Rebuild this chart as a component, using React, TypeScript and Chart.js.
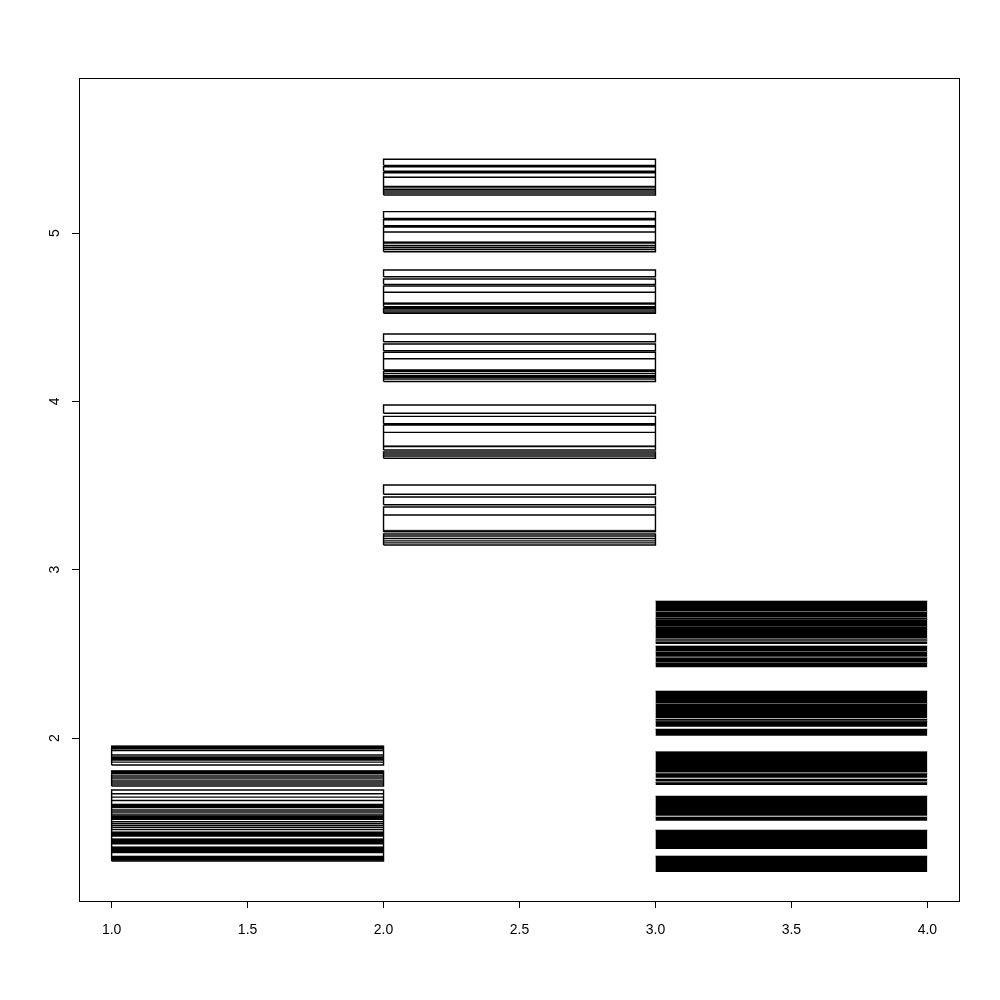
import React, { useEffect, useRef } from "react";
import { Chart, registerables } from "chart.js";

Chart.register(...registerables);

// x extents of the three groups
const groupSpans: number[][] = [
  [1, 2],
  [2, 3],
  [3, 4],
];

// Group 1 (x 1..2)
const group1Boxes: number[][] = [
  [1.84, 1.952],
  [1.715, 1.804],
  [1.269, 1.691],
];
const group1Lines: number[] = [
  1.926, 1.899, 1.887, 1.878, 1.869, 1.857, 1.774, 1.762, 1.75, 1.739, 1.727,
  1.669, 1.649, 1.629, 1.572, 1.56, 1.548, 1.503, 1.492, 1.48, 1.468, 1.456,
];
const group1Bands: number[][] = [
  [1.932, 1.952],
  [1.783, 1.804],
  [1.582, 1.608],
  [1.513, 1.541],
  [1.414, 1.443],
  [1.368, 1.402],
  [1.315, 1.354],
  [1.271, 1.299],
];

// Group 2 (x 2..3)
const group2Boxes: number[][] = [
  [5.402, 5.438], [5.367, 5.394], [5.226, 5.358],
  [5.087, 5.127], [5.043, 5.079], [4.889, 5.036],
  [4.74, 4.78], [4.695, 4.727], [4.562, 4.685], [4.523, 4.553],
  [4.354, 4.4], [4.301, 4.341], [4.186, 4.291], [4.118, 4.177],
  [3.929, 3.978], [3.867, 3.911], [3.711, 3.859], [3.662, 3.699],
  [3.448, 3.503], [3.386, 3.432], [3.226, 3.372], [3.147, 3.212],
];
const group2Lines: number[] = [
  5.331, 5.26, 5.25, 5.238,
  5.006, 4.926, 4.914, 4.902,
  4.648, 4.543, 4.531,
  4.253, 4.165, 4.153, 4.145, 4.133,
  3.816, 3.687, 3.675,
  3.325, 3.2, 3.185, 3.171, 3.159,
];
const group2Bands: number[][] = [
  [5.269, 5.279],
  [4.936, 4.948],
  [4.574, 4.586],
  [4.139, 4.143],
  [3.727, 3.736],
  [3.223, 3.234],
];

// Group 3 (x 3..4)
const group3Boxes: number[][] = [];
const group3Lines: number[] = [];
const group3Bands: number[][] = [
  [2.754, 2.814], [2.716, 2.75], [2.707, 2.713], [2.665, 2.704],
  [2.594, 2.662], [2.584, 2.59], [2.574, 2.58], [2.558, 2.57],
  [2.517, 2.547], [2.483, 2.513], [2.448, 2.477], [2.42, 2.446],
  [2.208, 2.279], [2.119, 2.204], [2.103, 2.113], [2.067, 2.099], [2.014, 2.053],
  [1.795, 1.919], [1.764, 1.789], [1.742, 1.756], [1.721, 1.736],
  [1.538, 1.655], [1.509, 1.531],
  [1.341, 1.453],
  [1.204, 1.299],
];

const groupBoxes = [group1Boxes, group2Boxes, group3Boxes];
const groupLines = [group1Lines, group2Lines, group3Lines];
const groupBands = [group1Bands, group2Bands, group3Bands];

const xTickValues = [1, 1.5, 2, 2.5, 3, 3.5, 4];
const xTickLabels = ["1.0", "1.5", "2.0", "2.5", "3.0", "3.5", "4.0"];
const yTickValues = [2, 3, 4, 5];
const yTickLabels = ["2", "3", "4", "5"];

const xRange = [0.88, 4.12];
const yRange = [1.0317, 5.921];

const FONT = "'Liberation Sans', Arial, sans-serif";

const framePlugin = {
  id: "frame",
  afterDraw(chart: any) {
    const { ctx, chartArea } = chart;
    const l = Math.round(chartArea.left) + 0.5;
    const t = Math.round(chartArea.top) + 0.5;
    const r = Math.round(chartArea.right) - 0.5;
    const b = Math.round(chartArea.bottom) + 0.5;
    ctx.save();
    ctx.strokeStyle = "#000";
    ctx.lineWidth = 1;
    ctx.strokeRect(l, t, r - l, b - t);
    ctx.restore();
  },
};

function buildDatasets() {
  const datasets: any[] = [];
  groupSpans.forEach(([x0, x1], g) => {
    // filled bands
    groupBands[g].forEach(([b, t]) => {
      datasets.push({
        data: [
          { x: x0, y: t },
          { x: x1, y: t },
        ],
        borderColor: "#000",
        backgroundColor: "#000",
        borderWidth: 0.6,
        pointRadius: 0,
        fill: { value: b },
        tension: 0,
      });
    });
    // outlined boxes
    const boxPts: any[] = [];
    groupBoxes[g].forEach(([b, t]) => {
      boxPts.push({ x: x0, y: b }, { x: x1, y: b }, { x: x1, y: t }, { x: x0, y: t }, { x: x0, y: b });
      boxPts.push({ x: x0, y: null });
    });
    if (boxPts.length)
      datasets.push({
        data: boxPts,
        borderColor: "#000",
        borderWidth: 1.4,
        pointRadius: 0,
        fill: false,
        tension: 0,
        spanGaps: false,
      });
    // inner horizontal lines
    const linePts: any[] = [];
    groupLines[g].forEach((y) => {
      linePts.push({ x: x0, y }, { x: x1, y }, { x: x1, y: null });
    });
    if (linePts.length)
      datasets.push({
        data: linePts,
        borderColor: "#000",
        borderWidth: 1.4,
        pointRadius: 0,
        fill: false,
        tension: 0,
        spanGaps: false,
      });
  });
  return datasets;
}

export default function App() {
  const ref = useRef<HTMLCanvasElement | null>(null);
  useEffect(() => {
    if (!ref.current) return;
    const chart = new Chart(ref.current, {
      type: "line",
      data: { datasets: buildDatasets() },
      options: {
        responsive: false,
        animation: false,
        events: [],
        layout: { padding: { top: 78, right: 40, left: 0, bottom: 0 } },
        plugins: { legend: { display: false }, tooltip: { enabled: false } },
        scales: {
          x: {
            type: "linear",
            min: xRange[0],
            max: xRange[1],
            afterBuildTicks: (s: any) => {
              s.ticks = xTickValues.map((v) => ({ value: v }));
            },
            afterFit: (s: any) => {
              s.height = 99;
            },
            ticks: {
              autoSkip: false,
              maxRotation: 0,
              minRotation: 0,
              padding: 14,
              color: "#000",
              font: { family: FONT, size: 14 },
              callback: (_v: any, i: number) => xTickLabels[i],
            },
            grid: { drawOnChartArea: false, drawTicks: true, tickLength: 7, color: "#000" },
            border: { display: false },
          },
          y: {
            type: "linear",
            min: yRange[0],
            max: yRange[1],
            afterBuildTicks: (s: any) => {
              s.ticks = yTickValues.map((v) => ({ value: v }));
            },
            afterFit: (s: any) => {
              s.width = 79;
            },
            ticks: {
              autoSkip: false,
              minRotation: 90,
              maxRotation: 90,
              crossAlign: "center",
              padding: 13,
              color: "#000",
              font: { family: FONT, size: 14 },
              callback: (_v: any, i: number) => yTickLabels[i],
            },
            grid: { drawOnChartArea: false, drawTicks: true, tickLength: 7, color: "#000" },
            border: { display: false },
          },
        },
      } as any,
      plugins: [framePlugin],
    });
    return () => chart.destroy();
  }, []);
  return (
    <div style={{ position: "absolute", left: 0, top: 0, width: 1000, height: 1000, background: "#fff" }}>
      <canvas ref={ref} width={1000} height={1000} />
    </div>
  );
}
